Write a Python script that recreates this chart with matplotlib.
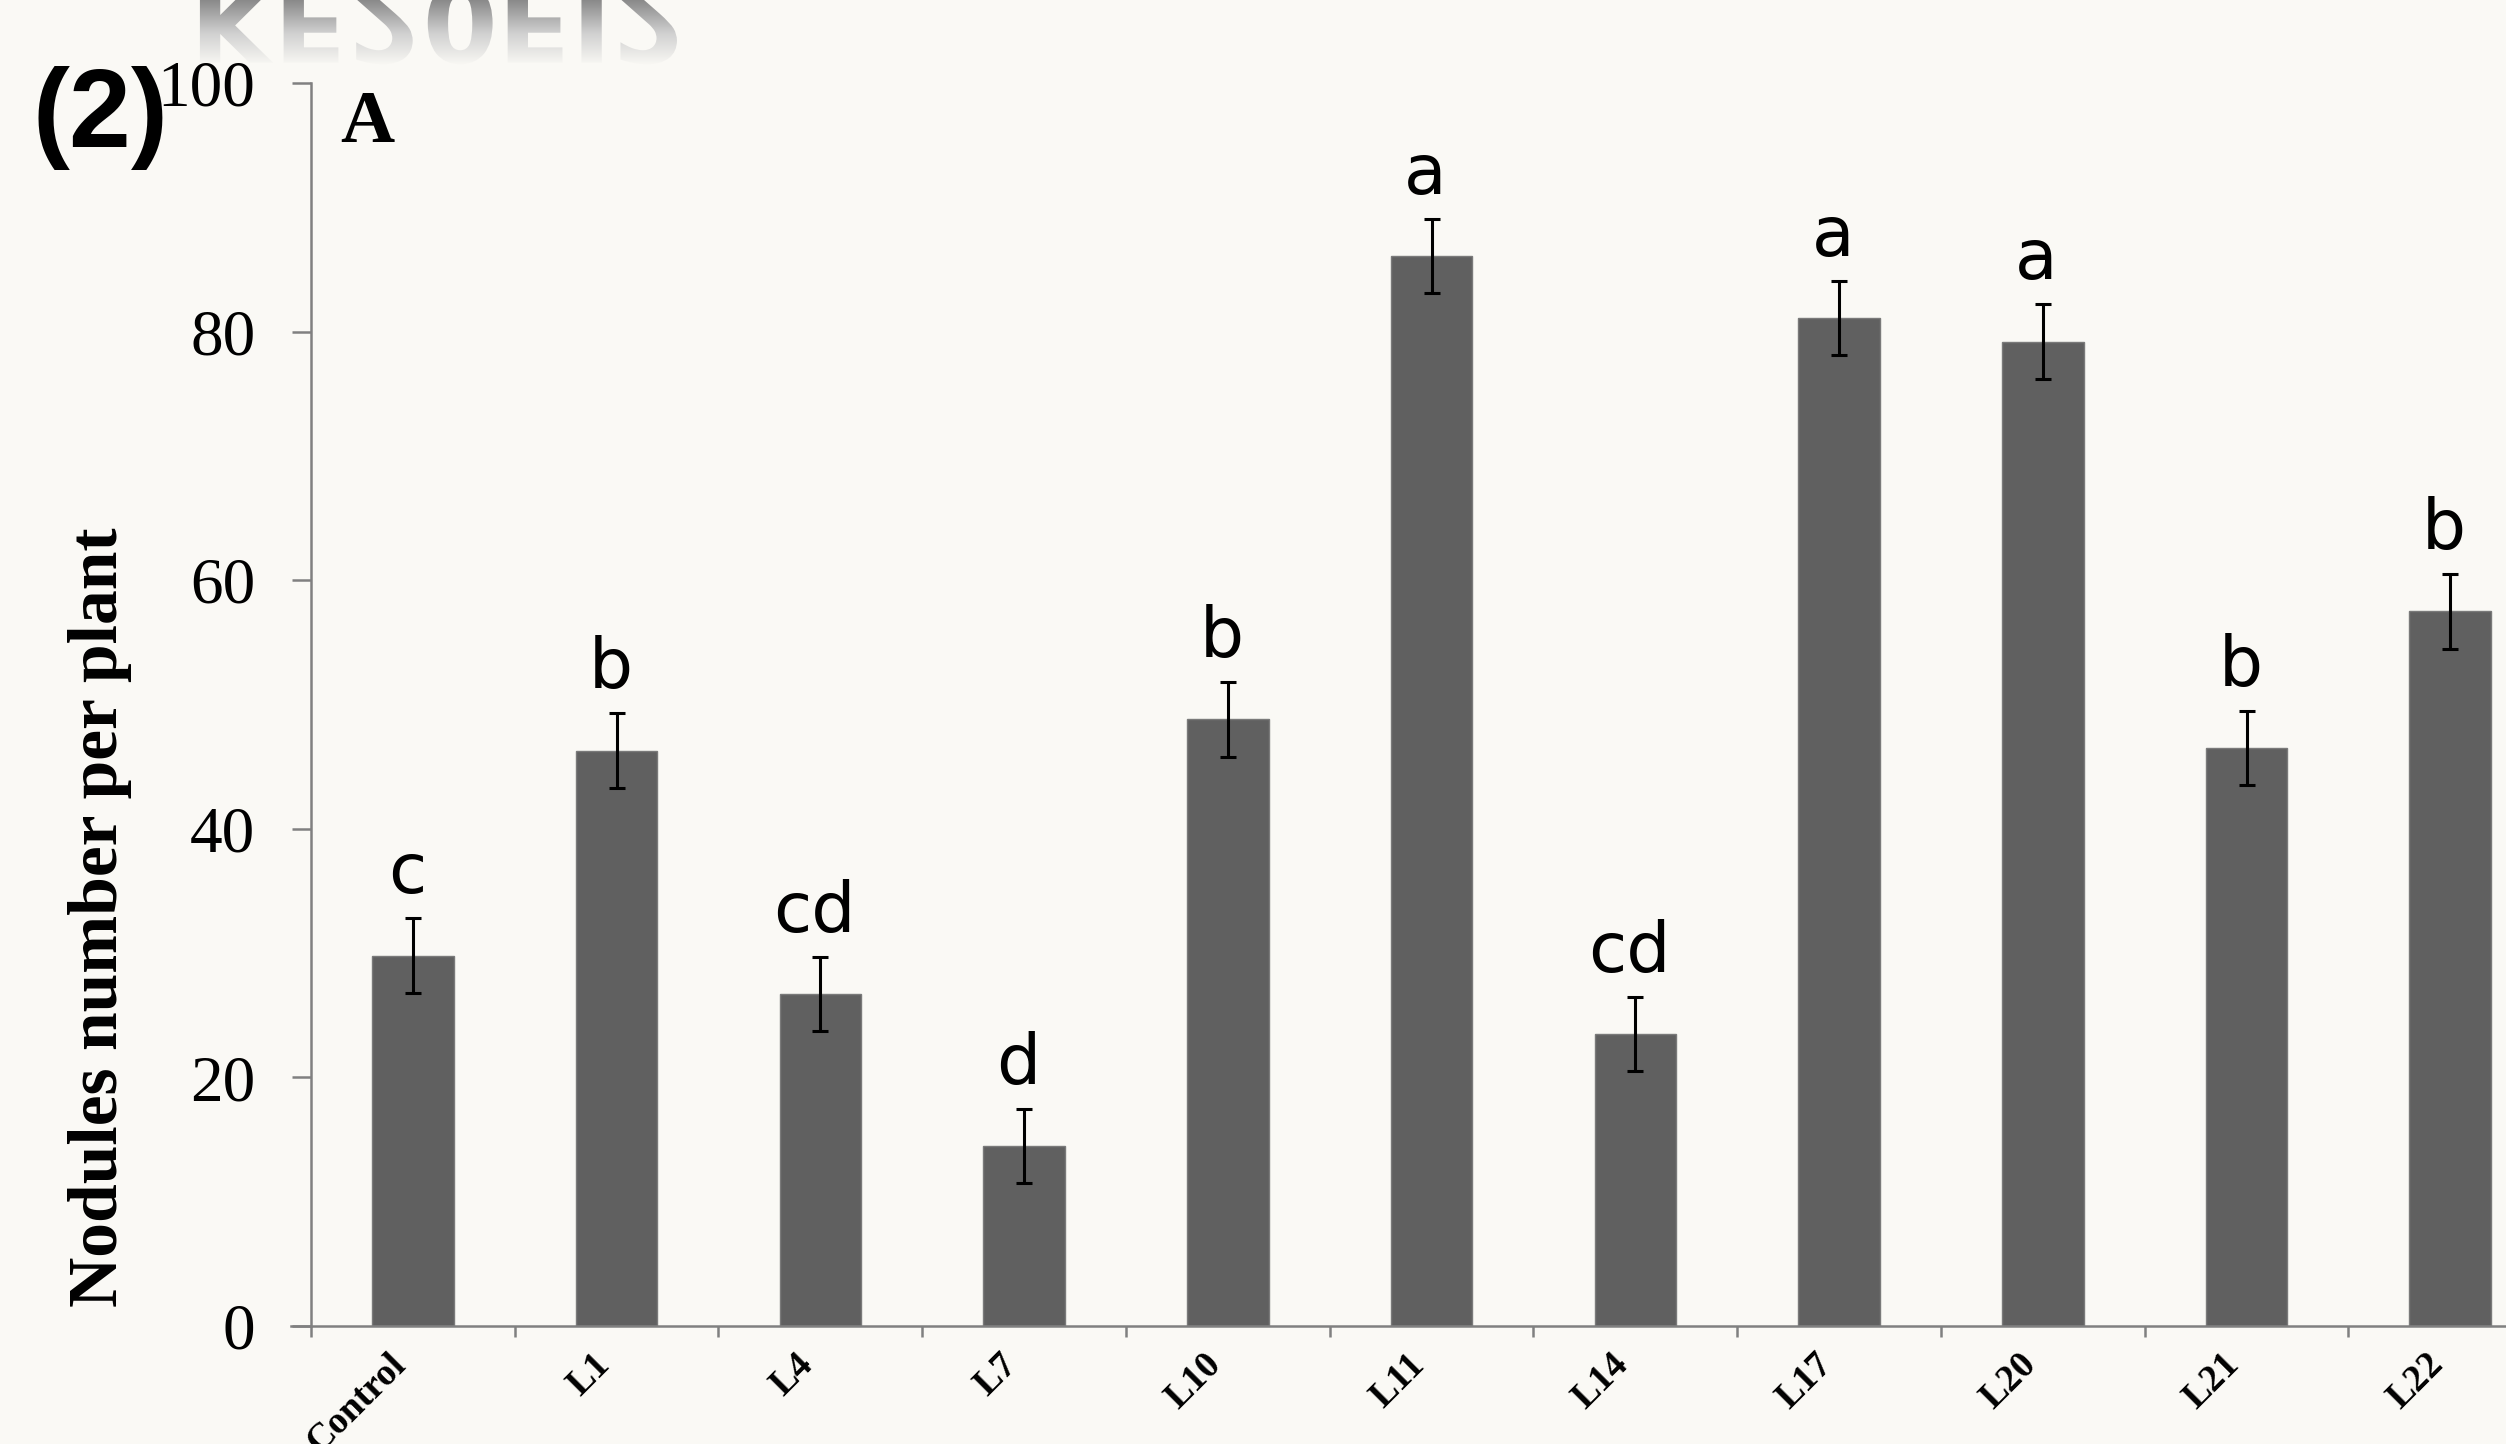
import numpy as np
import matplotlib
matplotlib.use("Agg")
import matplotlib.pyplot as plt
import matplotlib.transforms as mtransforms
from matplotlib.textpath import TextPath
from matplotlib.patches import PathPatch
from matplotlib.font_manager import FontProperties
from matplotlib.colors import LinearSegmentedColormap

# data
categories = ['Control', 'L1', 'L4', 'L7', 'L10', 'L11', 'L14', 'L17', 'L20', 'L21', 'L22']
nodules = [29.8, 46.3, 26.7, 14.5, 48.8, 86.1, 23.5, 81.1, 79.2, 46.5, 57.5]
errors = [3.0, 3.0, 3.0, 3.0, 3.0, 3.0, 3.0, 3.0, 3.0, 3.0, 3.0]
letters = ['c', 'b', 'cd', 'd', 'b', 'a', 'cd', 'a', 'a', 'b', 'b']
yticks = [0, 20, 40, 60, 80, 100]

bg = '#faf9f5'
bar_col = '#606060'
axis_col = '#808080'
serif = 'Liberation Serif'

fig = plt.figure(figsize=(25.06, 14.44), dpi=100, facecolor=bg)

# faded, mirrored watermark cut off at the top edge
wm = fig.add_axes([0, 0, 1, 1], zorder=0)
wm.set_xlim(0, 2506)
wm.set_ylim(1444, 0)
wm.axis('off')
tp = TextPath((190, -16), "KF20FI2", size=108,
              prop=FontProperties(family='DejaVu Sans', weight='bold'))
clip = PathPatch(tp, transform=wm.transData, facecolor='none', edgecolor='none')
wm.add_patch(clip)
cmap = LinearSegmentedColormap.from_list('fade', [bg, '#d0d0d0', '#8a8a8a'])
grad = np.linspace(1, 0, 64).reshape(-1, 1)
im = wm.imshow(grad, extent=(150, 750, 66, 0), cmap=cmap, origin='upper',
               aspect='auto', interpolation='bilinear')
im.set_clip_path(clip)

ax = fig.add_axes([0.1241, 0.0817, 0.8943, 0.8608], zorder=1)
ax.patch.set_alpha(0)

x = np.arange(len(categories)) + 0.5
ax.bar(x, nodules, width=0.4, color=bar_col, edgecolor='#7a7a7a', linewidth=1, zorder=2)
ax.errorbar(x, nodules, yerr=errors, fmt='none', ecolor='black',
            elinewidth=2.2, capsize=6, capthick=2.2, zorder=3)

for xi, v, e, lab in zip(x, nodules, errors, letters):
    ax.text(xi - 0.03, v + e + 2.0, lab, ha='center', va='baseline',
            fontsize=50, family='DejaVu Sans', color='black')

ax.set_xlim(0, 11)
ax.set_ylim(0, 100)
ax.set_yticks(yticks)
ax.set_yticklabels([str(t) for t in yticks], fontsize=47, family=serif)

# ticks at category boundaries, labels at centres
ax.set_xticks(np.arange(0, 12))
ax.set_xticklabels([])
ax.set_xticks(x, minor=True)
ax.set_xticklabels(categories, minor=True, rotation=45, ha='right', va='top',
                   fontsize=27, fontweight='bold', family=serif)
offset = mtransforms.ScaledTranslation(12 / 100, 0, fig.dpi_scale_trans)
for lbl in ax.get_xticklabels(minor=True):
    lbl.set_transform(lbl.get_transform() + offset)

ax.tick_params(axis='y', direction='out', length=14, width=1.8, color=axis_col, pad=26)
ax.tick_params(axis='x', which='major', direction='out', length=8, width=1.8, color=axis_col)
ax.tick_params(axis='x', which='minor', length=0, pad=15)

for s in ['top', 'right']:
    ax.spines[s].set_visible(False)
for s in ['left', 'bottom']:
    ax.spines[s].set_color(axis_col)
    ax.spines[s].set_linewidth(1.8)
ax.spines['bottom'].set_bounds(-0.1, 11)

fig.text(100 / 2506, 0.365, 'Nodules number per plant', rotation=90, ha='center', va='center',
         fontsize=50, fontweight='bold', family=serif)
fig.text(33 / 2506, 0.918, '(2)', ha='left', va='center', fontsize=80,
         fontweight='bold', family='Liberation Sans')
fig.text(340 / 2506, 1 - 90 / 1444, 'A', ha='left', va='top', fontsize=54,
         fontweight='bold', family=serif)

fig.savefig('out.png', dpi=100, facecolor=bg)
